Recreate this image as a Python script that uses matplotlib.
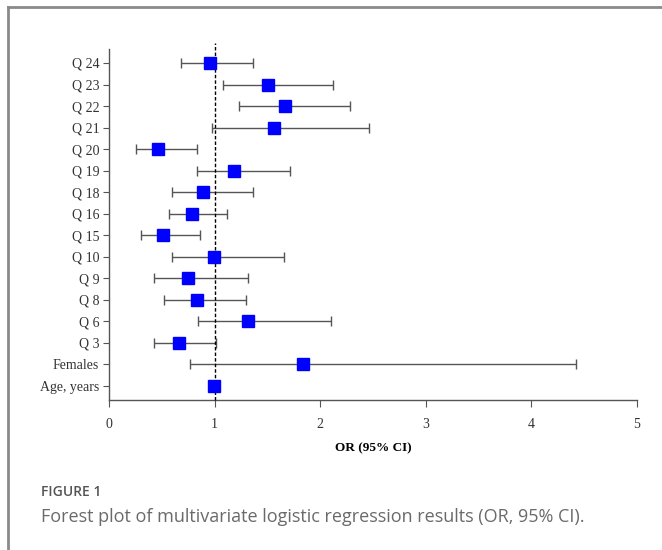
import matplotlib.pyplot as plt
from matplotlib.lines import Line2D

# odds ratios and 95% CI (bottom to top)
labels = ['Age, years', 'Females', 'Q 3', 'Q 6', 'Q 8', 'Q 9', 'Q 10', 'Q 15',
          'Q 16', 'Q 18', 'Q 19', 'Q 20', 'Q 21', 'Q 22', 'Q 23', 'Q 24']
odds = [0.99, 1.84, 0.66, 1.32, 0.83, 0.75, 0.99, 0.51,
        0.79, 0.89, 1.18, 0.46, 1.56, 1.67, 1.51, 0.96]
ci_low = [0.98, 0.77, 0.43, 0.84, 0.52, 0.43, 0.60, 0.30,
          0.57, 0.60, 0.83, 0.26, 0.98, 1.23, 1.08, 0.68]
ci_high = [1.01, 4.42, 1.01, 2.10, 1.30, 1.32, 1.66, 0.86,
           1.12, 1.36, 1.71, 0.83, 2.46, 2.28, 2.12, 1.36]

fig = plt.figure(figsize=(6.62, 5.5), dpi=100)
ax = fig.add_axes([109 / 662, 1 - 400 / 550, 528 / 662, 351 / 550])

ypos = list(range(len(labels)))
err = [[o - l for o, l in zip(odds, ci_low)], [h - o for o, h in zip(odds, ci_high)]]

ax.errorbar(odds, ypos, xerr=err, fmt='none', ecolor='#555555', elinewidth=1,
            capsize=3.5, capthick=1, zorder=2)
# reference line at OR = 1, reaching a bit above the y spine
ax.plot([1, 1], [-0.65, len(labels) - 0.05], color='black', linestyle=(0, (2.5, 1.5)),
        linewidth=1.0, zorder=3, clip_on=False)
ax.plot(odds, ypos, 's', color='#0000ff', markersize=8.5, zorder=4)

ax.set_xlim(0, 5)
ax.set_ylim(-0.65, len(labels) - 0.35)
ax.set_xticks([0, 1, 2, 3, 4, 5])
ax.set_yticks(ypos)
ax.set_yticklabels(labels)

serif = 'Liberation Serif'
for t in ax.get_xticklabels() + ax.get_yticklabels():
    t.set_fontfamily(serif)
    t.set_fontsize(10)
    t.set_color('#333333')
ax.tick_params(axis='x', length=5, color='#555555', pad=8)
ax.tick_params(axis='y', length=4, color='#555555', pad=3)

for s in ['top', 'right']:
    ax.spines[s].set_visible(False)
for s in ['left', 'bottom']:
    ax.spines[s].set_color('#555555')
    ax.spines[s].set_linewidth(1)

ax.set_xlabel('OR (95% CI)', fontfamily=serif, fontweight='bold', fontsize=9.5,
              labelpad=8)

# card frame around the figure
fig.add_artist(Line2D([8 / 662, 8 / 662], [0, 1 - 7 / 550], color='#8a8a8a', linewidth=2))
fig.add_artist(Line2D([8 / 662, 1], [1 - 7 / 550, 1 - 7 / 550], color='#8a8a8a', linewidth=2))

fig.text(41 / 662, 1 - 492 / 550, 'FIGURE 1', fontfamily='Open Sans', fontsize=10,
         fontweight='semibold', color='#555555', va='center')
fig.text(41 / 662, 1 - 517 / 550,
         'Forest plot of multivariate logistic regression results (OR, 95% CI).',
         fontfamily='Open Sans', fontsize=13, color='#6a6a6a', va='center')

fig.savefig('out.png', dpi=100)
